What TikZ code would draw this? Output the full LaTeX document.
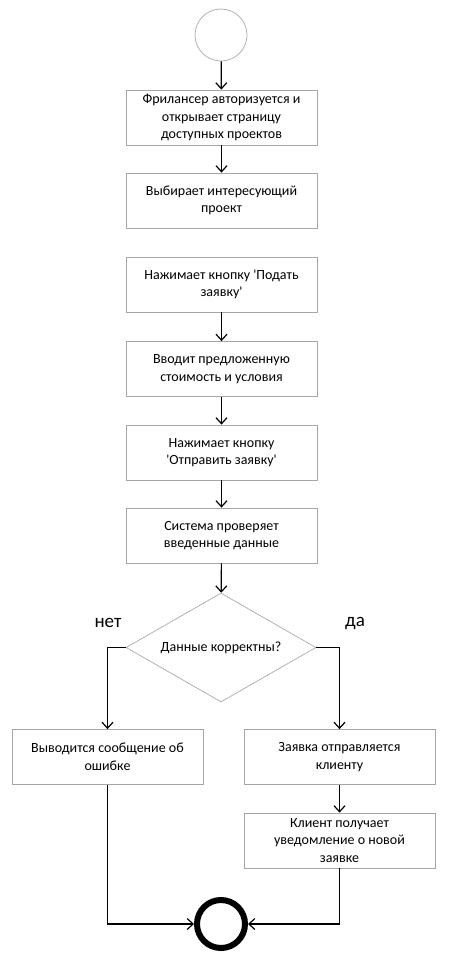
\documentclass[tikz,border=0pt]{standalone}
\usepackage{fontspec}
\setmainfont{Carlito}
\usetikzlibrary{shapes.geometric,arrows.meta}

\begin{document}
\begin{tikzpicture}[x=1pt, y=-1pt,
    font=\fontsize{14}{17.5}\selectfont,
    stepbox/.style={draw=gray!70, line width=0.8pt, rectangle, minimum width=191pt, minimum height=55pt, align=center, inner sep=0pt},
    flow/.style={line width=1.2pt, -{Straight Barb[length=6pt, width=11pt]}}]
    \useasboundingbox (0,0) rectangle (460,971);

    % начало
    \node[draw=gray!60, line width=0.8pt, circle, minimum size=52pt, inner sep=0pt] (start) at (221,35) {};

    % шаги
    \node[stepbox] (auth) at (221.5,117.5) {Фрилансер авторизуется и\\открывает страницу\\доступных проектов};
    \node[stepbox] (choose) at (221.5,200.5) {Выбирает интересующий\\проект};
    \node[stepbox] (apply) at (221.5,284.5) {Нажимает кнопку \textquotesingle Подать\\заявку\textquotesingle};
    \node[stepbox] (input) at (221.5,369) {Вводит предложенную\\стоимость и условия};
    \node[stepbox] (submit) at (221.5,452.5) {Нажимает кнопку\\\textquotesingle Отправить заявку\textquotesingle};
    \node[stepbox] (verify) at (221.5,535.5) {Система проверяет\\введенные данные};

    % условие
    \node[draw=gray!60, line width=0.8pt, diamond, aspect=1.74, minimum width=190pt, minimum height=109pt, inner sep=0pt] (check) at (221,647.5) {Данные корректны?};
    \node[font=\fontsize{19}{22}\selectfont] (no) at (108,623) {нет};
    \node[font=\fontsize{19}{22}\selectfont] (yes) at (355,623) {да};

    % ветки
    \node[stepbox] (error) at (107.5,757) {Выводится сообщение об\\ошибке};
    \node[stepbox] (send) at (339.5,757) {Заявка отправляется\\клиенту};
    \node[stepbox] (notify) at (339.5,840.5) {Клиент получает\\уведомление о новой\\заявке};

    % конец
    \node[draw, line width=6pt, circle, minimum size=48pt, inner sep=0pt] (finish) at (221,924) {};

    % связи
    \draw[flow] (start) -- (auth);
    \draw[flow] (auth) -- (choose);
    \draw[flow] (apply) -- (input);
    \draw[flow] (input) -- (submit);
    \draw[flow] (submit) -- (verify);
    \draw[flow] (verify) -- (check);
    \draw[flow] (check.west) -| (error.north);
    \draw[flow] (check.east) -| (send.north);
    \draw[flow] (send) -- (notify);
    \draw[flow] (error.south) |- (finish.west);
    \draw[flow] (notify.south) |- (finish.east);
\end{tikzpicture}
\end{document}
